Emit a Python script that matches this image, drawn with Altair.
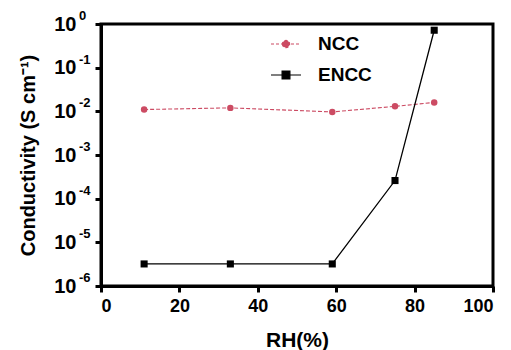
import altair as alt
import pandas as pd

rh = [11, 33, 59, 75, 85]
ncc = [0.011, 0.012, 0.0097, 0.013, 0.016]
encc = [3.2e-6, 3.2e-6, 3.2e-6, 2.6e-4, 0.72]
series = ["NCC", "ENCC"]
colors = ["#cc4b63", "#000000"]
y_ticks = [1e-6, 1e-5, 1e-4, 1e-3, 1e-2, 1e-1, 1]
y_exponents = ["-6", "-5", "-4", "-3", "-2", "-1", "0"]
x_ticks = [0, 20, 40, 60, 80, 100]

df = pd.DataFrame({
    "RH": rh * 2,
    "value": ncc + encc,
    "series": ["NCC"] * len(rh) + ["ENCC"] * len(rh),
})
df_ncc = df[df.series == "NCC"]
df_encc = df[df.series == "ENCC"]
exp_df = pd.DataFrame({"value": y_ticks, "exp": y_exponents})

FONT = "Liberation Sans"

circle_path = "M-1,0L1,0M-0.24,0A0.24,0.24 0 1,0 0.24,0A0.24,0.24 0 1,0 -0.24,0Z"
square_path = "M-1,0L1,0M-0.26,-0.26L0.26,-0.26L0.26,0.26L-0.26,0.26Z"

legend = alt.Legend(
    title=None,
    orient="none",
    legendX=169,
    legendY=4,
    padding=0,
    symbolSize=900,
    symbolOpacity=1,
    symbolStrokeWidth=1.2,
    labelFont=FONT,
    labelFontSize=19,
    labelFontWeight="bold",
    labelColor="black",
    labelOffset=16,
    rowPadding=5,
)

yscale = alt.Scale(type="log", domain=[1e-6, 1], nice=False)

x = alt.X("RH:Q", scale=alt.Scale(domain=[0, 100], nice=False),
          axis=alt.Axis(values=x_ticks, title="RH(%)", titlePadding=14,
                        labelFontSize=18, labelPadding=5))
y = alt.Y("value:Q", scale=yscale,
          axis=alt.Axis(values=y_ticks, title="Conductivity (S cm⁻¹)",
                        labelExpr="'10'", labelFontSize=20, labelPadding=19,
                        titlePadding=15, titleFontSize=20))

line_ncc = alt.Chart(df_ncc).mark_line(color=colors[0], strokeDash=[4, 2], strokeWidth=1.1).encode(x=x, y=y)
line_encc = alt.Chart(df_encc).mark_line(color=colors[1], strokeWidth=1.3).encode(x=x, y=y)
pts_ncc = alt.Chart(df_ncc).mark_point(filled=True, opacity=1, shape="circle", size=42, color=colors[0], strokeWidth=0).encode(x=x, y=y)
pts_encc = alt.Chart(df_encc).mark_point(filled=True, opacity=1, shape="square", size=50, color=colors[1], strokeWidth=0).encode(x=x, y=y)

exps = alt.Chart(exp_df).mark_text(
    align="left", baseline="middle", font=FONT, fontSize=13, fontWeight="bold",
    color="black", dy=-8
).encode(
    x=alt.value(-22),
    y=y,
    text="exp:N",
)

leg = alt.Chart(df).mark_point(opacity=0, size=1).encode(
    x=x, y=y,
    fill=alt.Fill("series:N", scale=alt.Scale(domain=series, range=colors), legend=legend),
    stroke=alt.Stroke("series:N", scale=alt.Scale(domain=series, range=colors), legend=legend),
    shape=alt.Shape("series:N", scale=alt.Scale(domain=series, range=[circle_path, square_path]), legend=legend),
    strokeDash=alt.StrokeDash("series:N", scale=alt.Scale(domain=series, range=[[3, 2], [1, 0]]), legend=legend),
)

chart = alt.layer(line_ncc, line_encc, pts_ncc, pts_encc, exps, leg).properties(
    width=392, height=262,
    background="white",
    autosize=alt.AutoSizeParams(type="none"),
    padding={"left": 101, "top": 24, "right": 18, "bottom": 64},
).configure_view(
    stroke="black", strokeWidth=3
).configure_axis(
    grid=False,
    domainColor="black", domainWidth=3,
    tickColor="black", tickWidth=3, tickSize=6,
    labelFont=FONT, labelFontWeight="bold", labelColor="black",
    titleFont=FONT, titleFontSize=21, titleFontWeight="bold", titleColor="black",
)

chart.save("out.html", embed_options={"renderer": "svg", "actions": False})
